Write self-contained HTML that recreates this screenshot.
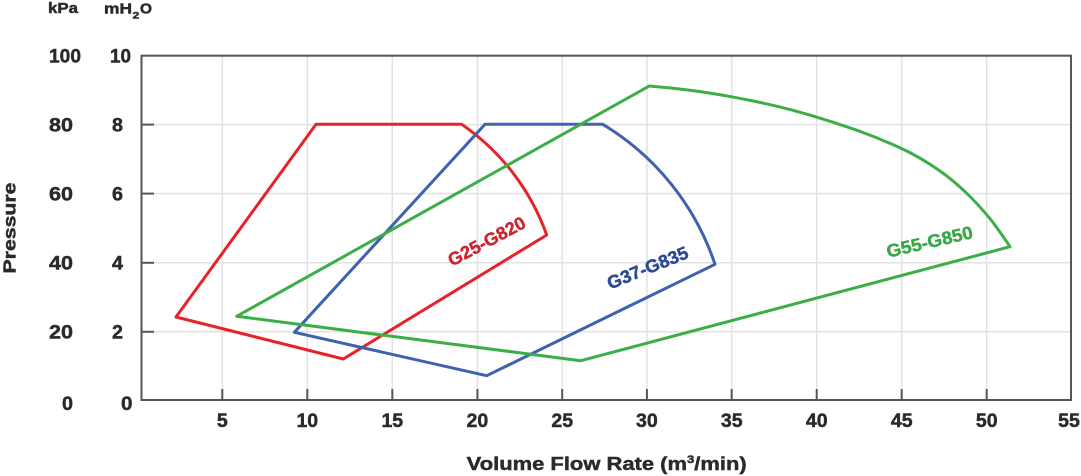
<!DOCTYPE html>
<html>
<head>
<meta charset="utf-8">
<style>
  html, body { margin:0; padding:0; background:#ffffff; }
  body { width:1081px; height:476px; overflow:hidden; }
  svg { display:block; }
  text { font-family:"Liberation Sans", Arial, sans-serif; font-weight:bold; fill:#2a2a2a; stroke:#2a2a2a; stroke-width:0.45px; }
</style>
</head>
<body>
<svg width="1081" height="476" viewBox="0 0 1081 476" xmlns="http://www.w3.org/2000/svg">
  <!-- gridlines -->
  <g stroke="#e2e2e2" stroke-width="1.5" fill="none">
    <line x1="222.3" y1="56" x2="222.3" y2="400"/>
    <line x1="307.3" y1="56" x2="307.3" y2="400"/>
    <line x1="392.3" y1="56" x2="392.3" y2="400"/>
    <line x1="477.4" y1="56" x2="477.4" y2="400"/>
    <line x1="562.2" y1="56" x2="562.2" y2="400"/>
    <line x1="646.9" y1="56" x2="646.9" y2="400"/>
    <line x1="731.7" y1="56" x2="731.7" y2="400"/>
    <line x1="816.7" y1="56" x2="816.7" y2="400"/>
    <line x1="901.7" y1="56" x2="901.7" y2="400"/>
    <line x1="986.7" y1="56" x2="986.7" y2="400"/>
    <line x1="142" y1="124.6" x2="1071" y2="124.6"/>
    <line x1="142" y1="193.6" x2="1071" y2="193.6"/>
    <line x1="142" y1="262.8" x2="1071" y2="262.8"/>
    <line x1="142" y1="331.8" x2="1071" y2="331.8"/>
  </g>

  <!-- axes frame -->
  <rect x="141.5" y="55.7" width="929.5" height="344.3" fill="none" stroke="#555555" stroke-width="2"/>

  <!-- ticks -->
  <g stroke="#555555" stroke-width="2">
    <line x1="141.5" y1="124.6" x2="154" y2="124.6"/>
    <line x1="141.5" y1="193.6" x2="154" y2="193.6"/>
    <line x1="141.5" y1="262.8" x2="154" y2="262.8"/>
    <line x1="141.5" y1="331.8" x2="154" y2="331.8"/>
    <line x1="222.3" y1="400" x2="222.3" y2="389"/>
    <line x1="307.3" y1="400" x2="307.3" y2="389"/>
    <line x1="392.3" y1="400" x2="392.3" y2="389"/>
    <line x1="477.4" y1="400" x2="477.4" y2="389"/>
    <line x1="562.2" y1="400" x2="562.2" y2="389"/>
    <line x1="646.9" y1="400" x2="646.9" y2="389"/>
    <line x1="731.7" y1="400" x2="731.7" y2="389"/>
    <line x1="816.7" y1="400" x2="816.7" y2="389"/>
    <line x1="901.7" y1="400" x2="901.7" y2="389"/>
    <line x1="986.7" y1="400" x2="986.7" y2="389"/>
  </g>

  <!-- series -->
  <g fill="none" stroke-width="3" stroke-linejoin="round">
    <path stroke="#e8222a" d="M176,317 L316,124.3 L461.7,124.3 A226,226 0 0 1 546.7,235 L343.3,359 Z"/>
    <path stroke="#3f62b0" d="M294.3,332.3 L485,124.3 L602.7,124.3 A259,259 0 0 1 715,264.3 L486.7,375.7 Z"/>
    <path stroke="#3bae48" d="M236.7,316.3 L649.3,86
      C662.87,87.09 676.43,88.54 690,90.3
      C703.67,92.08 717.33,94.24 731,96.7
      C745.33,99.28 759.67,102.23 774,105.6
      C788,108.89 802,112.7 816,116.9
      C830.67,121.3 845.33,126.12 860,131.4
      C873.33,136.2 886.67,141.67 900,147.8
      C913.33,153.93 926.67,161.67 940,171
      C950,178 960,186.5 970,196.5
      C976.67,203.17 983.33,210.57 990,218.7
      C996.67,226.83 1003.33,236.83 1010,246.7
      L580.7,360.7 Z"/>
  </g>

  <!-- series labels -->
  <g transform="translate(486.5,241) rotate(-28)">
    <text x="0" y="6.5" text-anchor="middle" font-size="18" textLength="85" lengthAdjust="spacingAndGlyphs" style="fill:#cf2530;stroke:#cf2530">G25-G820</text>
  </g>
  <g transform="translate(647.5,267.5) rotate(-22)">
    <text x="0" y="6.5" text-anchor="middle" font-size="18" textLength="86" lengthAdjust="spacingAndGlyphs" style="fill:#2c4a94;stroke:#2c4a94">G37-G835</text>
  </g>
  <g transform="translate(929.5,241.5) rotate(-13)">
    <text x="0" y="6.5" text-anchor="middle" font-size="18" textLength="88" lengthAdjust="spacingAndGlyphs" style="fill:#3aa848;stroke:#3aa848">G55-G850</text>
  </g>

  <!-- unit headers -->
  <text x="48" y="13" font-size="14.5" textLength="30" lengthAdjust="spacingAndGlyphs">kPa</text>
  <text x="104" y="13.3" font-size="14.5" textLength="28" lengthAdjust="spacingAndGlyphs">mH</text>
  <text x="132.7" y="18.3" font-size="9.5" textLength="6.6" lengthAdjust="spacingAndGlyphs">2</text>
  <text x="140" y="13.3" font-size="14.5" textLength="12" lengthAdjust="spacingAndGlyphs">O</text>

  <!-- kPa labels -->
  <g font-size="19.5">
    <text x="49" y="62.5" textLength="32" lengthAdjust="spacingAndGlyphs">100</text>
    <text x="49" y="131.3" textLength="24" lengthAdjust="spacingAndGlyphs">80</text>
    <text x="49" y="200.3" textLength="24" lengthAdjust="spacingAndGlyphs">60</text>
    <text x="49" y="269.5" textLength="24" lengthAdjust="spacingAndGlyphs">40</text>
    <text x="49" y="338.3" textLength="24" lengthAdjust="spacingAndGlyphs">20</text>
    <text x="62" y="410" textLength="11" lengthAdjust="spacingAndGlyphs">0</text>
  </g>
  <!-- mH2O labels -->
  <g font-size="19.5">
    <text x="110" y="62.5" textLength="21" lengthAdjust="spacingAndGlyphs">10</text>
    <text x="112" y="131.3" textLength="11" lengthAdjust="spacingAndGlyphs">8</text>
    <text x="112" y="200.3" textLength="11" lengthAdjust="spacingAndGlyphs">6</text>
    <text x="112" y="269.5" textLength="11" lengthAdjust="spacingAndGlyphs">4</text>
    <text x="112" y="338.3" textLength="11" lengthAdjust="spacingAndGlyphs">2</text>
    <text x="121" y="410" textLength="11.5" lengthAdjust="spacingAndGlyphs">0</text>
  </g>

  <!-- x tick labels -->
  <g font-size="19.5" text-anchor="middle">
    <text x="222.3" y="427">5</text>
    <text x="307.3" y="427">10</text>
    <text x="392.3" y="427">15</text>
    <text x="477.4" y="427">20</text>
    <text x="562.2" y="427">25</text>
    <text x="646.9" y="427">30</text>
    <text x="731.7" y="427">35</text>
    <text x="816.7" y="427">40</text>
    <text x="901.7" y="427">45</text>
    <text x="986.7" y="427">50</text>
    <text x="1069" y="427">55</text>
  </g>

  <!-- axis titles -->
  <text x="466.7" y="470" font-size="18.5" textLength="280" lengthAdjust="spacingAndGlyphs">Volume Flow Rate (m<tspan font-size="11" dy="-7">3</tspan><tspan dy="7">/min)</tspan></text>
  <g transform="translate(15.5,228) rotate(-90)">
    <text x="0" y="0" text-anchor="middle" font-size="17.5" textLength="91" lengthAdjust="spacingAndGlyphs">Pressure</text>
  </g>
</svg>
</body>
</html>
